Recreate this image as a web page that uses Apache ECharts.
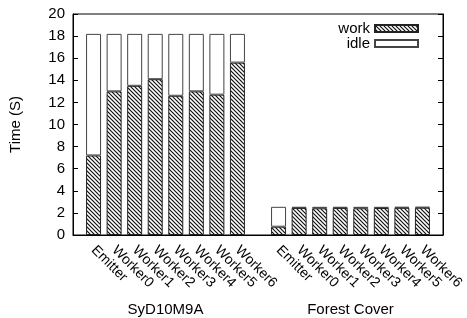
<!DOCTYPE html>
<html><head><meta charset="utf-8">
<script src="https://cdn.jsdelivr.net/npm/echarts@6/dist/echarts.min.js"></script>
<style>html,body{margin:0;padding:0;background:#fff}#c{width:467px;height:318px}</style>
</head><body><div id="c"></div>
<script>
// ---- data ----
const categories = ['Emitter','Worker0','Worker1','Worker2','Worker3','Worker4','Worker5','Worker6'];
const groups = ['SyD10M9A','Forest Cover'];
const syWork = [7.2, 13.0, 13.5, 14.1, 12.6, 13.0, 12.7, 15.6];
const syIdle = [11.0, 5.2, 4.7, 4.1, 5.6, 5.2, 5.5, 2.6];
const fcWork = [0.75, 2.45, 2.42, 2.45, 2.42, 2.44, 2.46, 2.47];
const fcIdle = [1.8, 0.1, 0.13, 0.1, 0.13, 0.11, 0.09, 0.08];
const yTicks = [0,2,4,6,8,10,12,14,16,18,20];

// ---- build: one empty slot before each group and one at the end ----
const workByGroup = [syWork, fcWork];
const idleByGroup = [syIdle, fcIdle];
const xCats = [], workData = [], idleData = [];
const groupMap = {};
groups.forEach((g, gi) => {
  xCats.push(''); workData.push('-'); idleData.push('-');
  groupMap[xCats.length + (categories.length - 1) / 2] = g;
  categories.forEach((c, i) => {
    xCats.push(c);
    workData.push(workByGroup[gi][i]);
    idleData.push(idleByGroup[gi][i]);
  });
});
xCats.push(''); workData.push('-'); idleData.push('-');
const xMax = xCats.length - 1;

function hatch() {
  const s = 4;
  const cv = document.createElement('canvas');
  cv.width = s; cv.height = s;
  const ctx = cv.getContext('2d');
  ctx.fillStyle = '#fff';
  ctx.fillRect(0, 0, s, s);
  ctx.strokeStyle = '#111';
  ctx.lineWidth = 1.2;
  for (const x0 of [-s, 0, s]) {
    ctx.beginPath();
    ctx.moveTo(x0 - 1, -1);
    ctx.lineTo(x0 + s + 1, s + 1);
    ctx.stroke();
  }
  return cv;
}
const pattern = { image: hatch(), repeat: 'repeat' };
const FONT = 'Liberation Sans, Arial, Helvetica, sans-serif';

const chart = echarts.init(document.getElementById('c'), null, { renderer: 'canvas' });
chart.setOption({
  animation: false,
  backgroundColor: '#fff',
  textStyle: { fontFamily: FONT, color: '#000' },
  grid: { left: 73, right: 24, top: 14, bottom: 83, show: true, borderColor: '#000', borderWidth: 1, backgroundColor: 'transparent' },
  legend: [
    { data: ['work'], right: 43, top: 16, orient: 'vertical', align: 'right', itemWidth: 43, itemHeight: 7,
      textStyle: { fontSize: 15, fontFamily: FONT, color: '#000' }, icon: 'rect' },
    { data: ['idle'], right: 43, top: 31, orient: 'vertical', align: 'right', itemWidth: 43, itemHeight: 7,
      textStyle: { fontSize: 15, fontFamily: FONT, color: '#000' }, icon: 'rect' }
  ],
  xAxis: [
    { type: 'category', data: xCats, boundaryGap: false,
      axisLine: { show: true, lineStyle: { color: '#000', width: 1 } },
      axisTick: { show: false }, splitLine: { show: false },
      axisLabel: { interval: 0, rotate: -45, margin: 13, fontSize: 14, fontFamily: FONT, color: '#000' } },
    { type: 'value', min: 0, max: xMax, interval: 0.5, position: 'bottom',
      axisLine: { show: false }, axisTick: { show: false }, splitLine: { show: false },
      axisLabel: { margin: 67, fontSize: 15, fontFamily: FONT, color: '#000',
        showMinLabel: true, showMaxLabel: true,
        formatter: v => groupMap[v] || '' } }
  ],
  yAxis: [
    { type: 'value', min: yTicks[0], max: yTicks[yTicks.length - 1], interval: yTicks[1] - yTicks[0],
      name: 'Time (S)', nameLocation: 'middle', nameGap: 50,
      nameTextStyle: { fontSize: 15, fontFamily: FONT, color: '#000' },
      axisLine: { show: true, lineStyle: { color: '#000' } },
      axisTick: { show: true, inside: true, length: 5, lineStyle: { color: '#000' } },
      splitLine: { show: false },
      axisLabel: { fontSize: 15, fontFamily: FONT, color: '#000', margin: 8 } },
    { type: 'value', min: yTicks[0], max: yTicks[yTicks.length - 1], interval: yTicks[1] - yTicks[0], position: 'right',
      axisLine: { show: true, lineStyle: { color: '#000' } },
      axisTick: { show: true, inside: true, length: 5, lineStyle: { color: '#000' } },
      splitLine: { show: false }, axisLabel: { show: false } }
  ],
  series: [
    { name: 'work', type: 'bar', stack: 't', xAxisIndex: 0, yAxisIndex: 0, barWidth: 15, data: workData,
      itemStyle: { color: pattern, borderColor: '#222', borderWidth: 1 } },
    { name: 'idle', type: 'bar', stack: 't', xAxisIndex: 0, yAxisIndex: 0, barWidth: 15, data: idleData,
      itemStyle: { color: '#fff', borderColor: '#444', borderWidth: 1 } }
  ]
});
</script>
</body></html>
